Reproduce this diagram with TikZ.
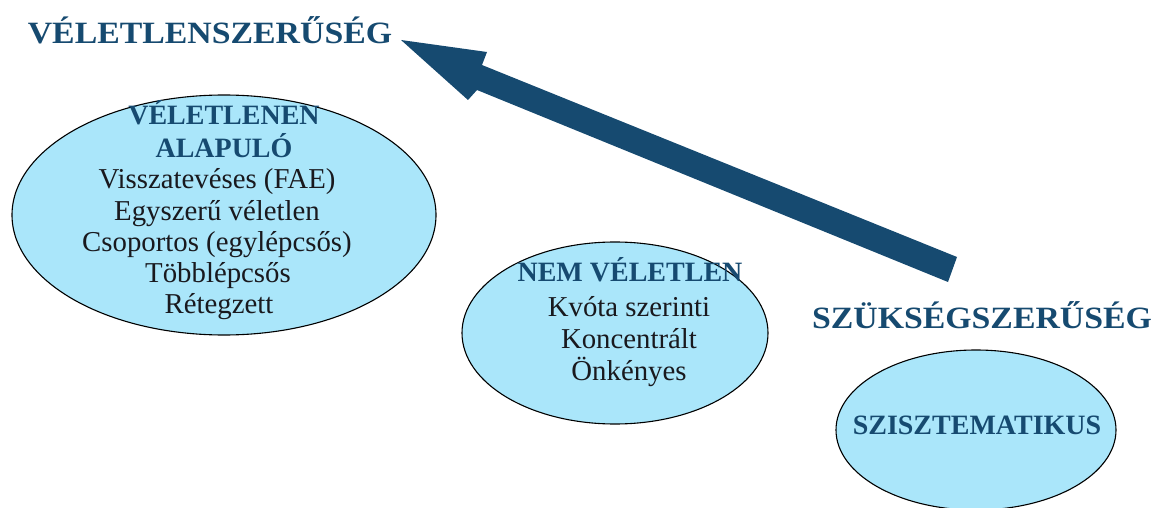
\documentclass[tikz,border=0pt]{standalone}
\usepackage{fontspec}
\setmainfont{Liberation Serif}
\newfontfamily\widehead{Liberation Serif}[FakeStretch=1.09]
\usetikzlibrary{shapes.geometric}
\definecolor{navy}{RGB}{22,74,112}
\definecolor{sky}{RGB}{170,230,250}
\definecolor{ink}{RGB}{25,25,30}
\begin{document}
\begin{tikzpicture}[x=1pt,y=-1pt,
  bubble/.style={ellipse, draw=black, line width=1.1pt, fill=sky, inner sep=0pt},
  heading/.style={font=\fontsize{31}{33}\selectfont\widehead\bfseries, text=navy, anchor=base, inner sep=0pt},
  subhead/.style={font=\fontsize{28}{32}\selectfont\bfseries, text=navy, anchor=base, inner sep=0pt},
  item/.style={font=\fontsize{28.8}{32}\selectfont, text=ink, anchor=base, inner sep=0pt}]
\useasboundingbox (0,0) rectangle (1165,508);

% sampling families
\node[bubble, minimum width=424, minimum height=240] (random) at (224,215) {};
\node[bubble, minimum width=306, minimum height=182] (nonrandom) at (615,333) {};
\node[bubble, minimum width=280, minimum height=160] (systematic) at (976,430) {};

% axis labels
\node[heading] (chance) at (210,44) {VÉLETLENSZERŰSÉG};
\node[heading] (necessity) at (982,328) {SZÜKSÉGSZERŰSÉG};

% thick arrow from necessity towards chance
\coordinate (tip) at (401,40);
\coordinate (barbA) at (487,52);
\coordinate (neckA) at (482,65);
\coordinate (tailA) at (957,257);
\coordinate (tailB) at (948,282);
\coordinate (neckB) at (477,90);
\coordinate (barbB) at (468,100);
\fill[navy] (tip) -- (barbA) -- (neckA) -- (tailA) -- (tailB) -- (neckB) -- (barbB) -- cycle;

% random sampling
\node[subhead] (r1) at (224,125) {VÉLETLENEN};
\node[subhead] (r2) at (224,158) {ALAPULÓ};
\node[item] (r3) at (217,189) {Visszatevéses (FAE)};
\node[item] (r4) at (217,220) {Egyszerű véletlen};
\node[item] (r5) at (217,251) {Csoportos (egylépcsős)};
\node[item] (r6) at (218,282) {Többlépcsős};
\node[item] (r7) at (219,313) {Rétegzett};

% non-random sampling
\node[subhead] (n1) at (630,281) {NEM VÉLETLEN};
\node[item] (n2) at (629,316) {Kvóta szerinti};
\node[item] (n3) at (629,348) {Koncentrált};
\node[item] (n4) at (629,380) {Önkényes};

% systematic sampling
\node[subhead] (s1) at (977,434) {SZISZTEMATIKUS};
\end{tikzpicture}
\end{document}
